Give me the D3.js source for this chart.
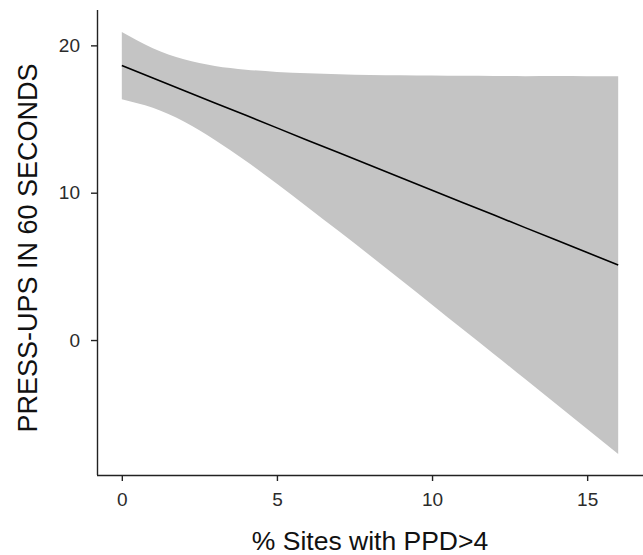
<!DOCTYPE html>
<html>
<head>
<meta charset="utf-8">
<script src="https://cdn.jsdelivr.net/npm/d3@7"></script>
<style>
  html, body { margin: 0; padding: 0; background: #fff; }
  svg { display: block; }
  text { font-family: "Liberation Sans", Arial, Helvetica, sans-serif; }
</style>
</head>
<body>
<svg id="chart" width="643" height="555"></svg>
<script>
// Data
const xValues   = [0, 1, 2, 3, 4, 5, 6, 7, 8, 9, 10, 11, 12, 13, 14, 15, 16];
const fitValues = [18.63, 17.78, 16.94, 16.09, 15.25, 14.40, 13.55, 12.71, 11.86, 11.02, 10.17, 9.32, 8.48, 7.63, 6.79, 5.94, 5.09];
const upperCI   = [20.91, 19.81, 19.05, 18.60, 18.35, 18.20, 18.10, 18.04, 17.99, 17.97, 17.95, 17.93, 17.92, 17.91, 17.92, 17.91, 17.91];
const lowerCI   = [16.35, 15.76, 14.83, 13.58, 12.15, 10.60, 9.00, 7.38, 5.73, 4.07, 2.40, 0.71, -0.96, -2.65, -4.34, -6.03, -7.73];
const xTicks = [0, 5, 10, 15];
const yTicks = [0, 10, 20];
const xTitle = "% Sites with PPD>4";
const yTitle = "PRESS-UPS IN 60 SECONDS";

(function () {
const svg = d3.select("#chart");
const mLeft = 97, mRight = 643, mTop = 10, mBottom = 475;

const x = d3.scaleLinear().domain([-0.8, 16.8]).range([mLeft, mRight]);
const y = d3.scaleLinear().domain([-9.16, 22.4]).range([mBottom, mTop]);

const rows = xValues.map((v, i) => ({x: v, fit: fitValues[i], lo: lowerCI[i], hi: upperCI[i]}));

// confidence ribbon
svg.append("path")
  .datum(rows)
  .attr("fill", "#c4c4c4")
  .attr("d", d3.area()
    .x(d => x(d.x))
    .y0(d => y(d.lo))
    .y1(d => y(d.hi))
    .curve(d3.curveMonotoneX));

// fitted line
svg.append("path")
  .datum(rows)
  .attr("fill", "none")
  .attr("stroke", "#000")
  .attr("stroke-width", 1.6)
  .attr("d", d3.line().x(d => x(d.x)).y(d => y(d.fit)));

// axes
const xAxis = svg.append("g")
  .attr("transform", `translate(0,${mBottom})`)
  .call(d3.axisBottom(x).tickValues(xTicks).tickFormat(d3.format("d")).tickSize(6).tickPadding(12));
const yAxis = svg.append("g")
  .attr("transform", `translate(${mLeft},0)`)
  .call(d3.axisLeft(y).tickValues(yTicks).tickFormat(d3.format("d")).tickSize(6).tickPadding(11));

[xAxis, yAxis].forEach(g => {
  g.select(".domain").attr("stroke", "#222").attr("stroke-width", 1.4);
  g.selectAll(".tick line").attr("stroke", "#222").attr("stroke-width", 1.4);
  g.selectAll(".tick text")
    .attr("fill", "#2b2b2b")
    .style("font-size", "19px")
    .style("font-family", "'Liberation Sans', Arial, Helvetica, sans-serif");
});
xAxis.select(".domain").attr("d", `M${mLeft},0.5H${mRight}`);
yAxis.select(".domain").attr("d", `M0.5,${mTop}V${mBottom}`);

// axis titles
svg.append("text")
  .attr("x", 370)
  .attr("y", 550)
  .attr("text-anchor", "middle")
  .attr("fill", "#111")
  .style("font-size", "26.5px")
  .text(xTitle);

svg.append("text")
  .attr("transform", "translate(37,248) rotate(-90)")
  .attr("text-anchor", "middle")
  .attr("fill", "#111")
  .style("font-size", "27px")
  .text(yTitle);
})();
</script>
</body>
</html>
